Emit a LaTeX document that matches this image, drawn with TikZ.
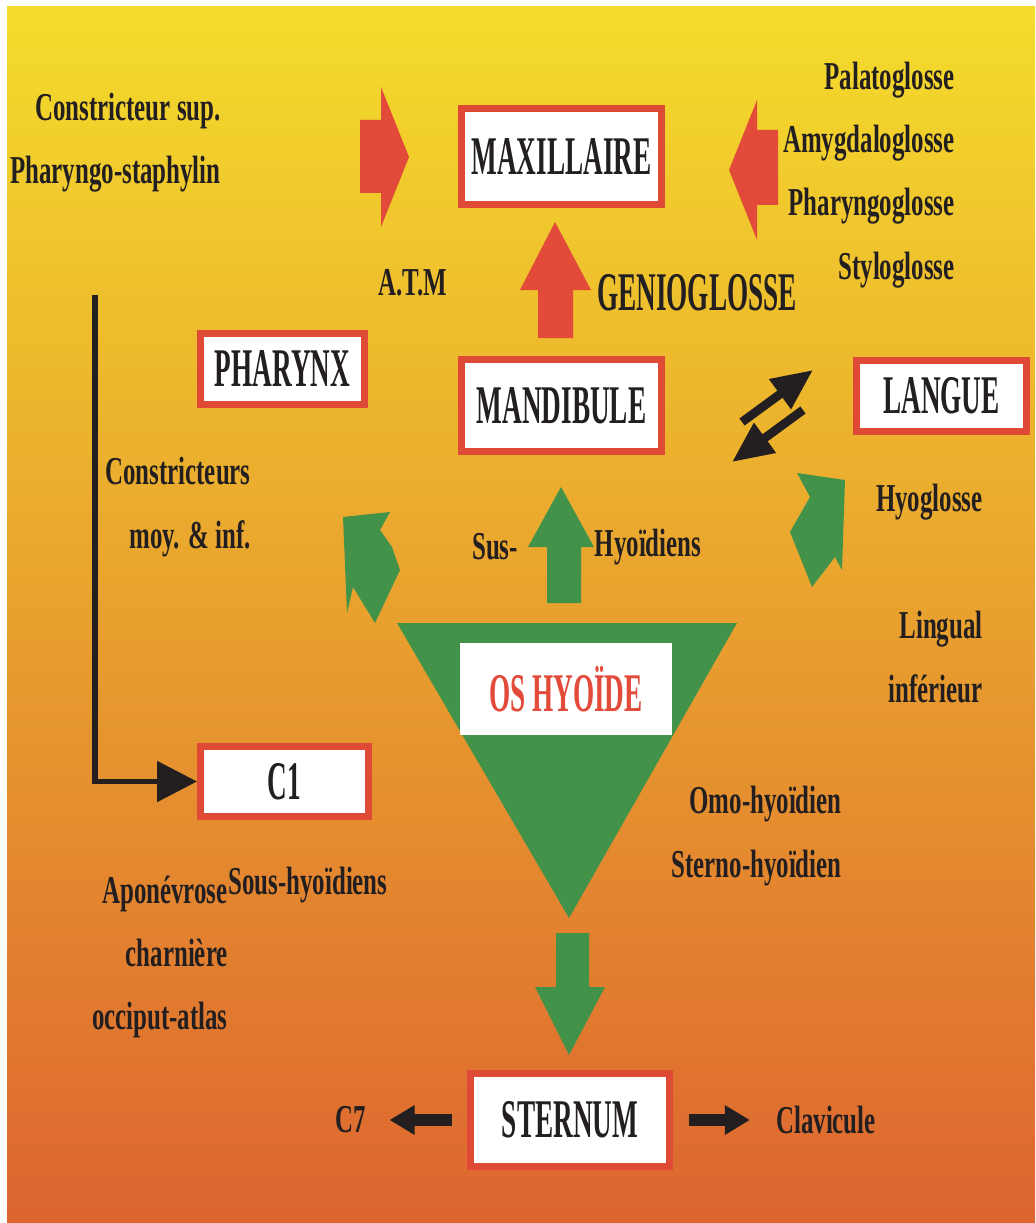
\documentclass[tikz,border=0pt]{standalone}
\usepackage{fontspec}
\usetikzlibrary{arrows.meta}

\newfontfamily\condbox[FakeStretch=0.5]{Liberation Serif}
\newfontfamily\condlab[FakeStretch=0.63]{Liberation Serif}
\newcommand{\boxtxt}{\condbox\bfseries\fontsize{31}{33}\selectfont}
\newcommand{\labtxt}{\condlab\bfseries\fontsize{22.5}{36}\selectfont}

\definecolor{topyellow}{HTML}{F4DC2C}
\definecolor{midorange}{HTML}{EAA644}
\definecolor{lowred}{HTML}{DD6530}
\definecolor{boxred}{HTML}{DE4A35}
\definecolor{arrowred}{HTML}{E24B3A}
\definecolor{leafgreen}{HTML}{43924A}
\definecolor{ink}{HTML}{231F20}

\begin{document}
\begin{tikzpicture}
	[x=0.02cm, y=-0.02cm,
	 organ/.style = {draw=boxred,
	                 line width=4pt,
	                 fill=white,
	                 font=\boxtxt,
	                 text=ink,
	                 inner sep=0pt},
	 lbl/.style   = {font=\labtxt, text=ink, inner sep=0pt, align=right},
	 bigarrow/.style  = {draw=ink, line width=5pt,
	                     -{Triangle[length=0.82cm, width=0.7cm]}},
	 sidearrow/.style = {draw=ink, line width=6.5pt,
	                     -{Triangle[length=0.5cm, width=0.56cm]}}
	]

	\useasboundingbox (0,0) rectangle (1035,1223);
	\shade[top color=topyellow, middle color=midorange, bottom color=lowred]
	      (7,7) rectangle (1035,1223);

	% bones and organs
	\node[organ, minimum width=4cm,    minimum height=1.92cm] (maxi)  at (561.5,156.5) {MAXILLAIRE};
	\node[organ, minimum width=3.28cm, minimum height=1.42cm] (phar)  at (282.5,369)   {PHARYNX};
	\node[organ, minimum width=4cm,    minimum height=1.84cm] (mandi) at (561.5,405.5) {MANDIBULE};
	\node[organ, minimum width=3.4cm,  minimum height=1.42cm] (lang)  at (941.5,396)   {LANGUE};
	\node[organ, minimum width=3.36cm, minimum height=1.4cm]  (cone)  at (284.5,781.5) {C1};
	\node[organ, minimum width=3.98cm, minimum height=1.86cm] (stern) at (570,1120)    {STERNUM};

	\fill[leafgreen] (397,623) -- (737,623) -- (569,918) -- cycle;
	\node[fill=white, inner sep=0pt, minimum width=4.24cm, minimum height=1.84cm,
	      font=\boxtxt, text=arrowred] (hyo) at (566,689) {OS HYOÏDE};

	% red arrows
	\fill[arrowred] (360,120) -- (381,120) -- (381,87) -- (409,157) -- (381,227) -- (381,193) -- (360,193) -- cycle;
	\fill[arrowred] (778,130) -- (757,130) -- (757,100) -- (729,170) -- (757,240) -- (757,205) -- (778,205) -- cycle;
	\fill[arrowred] (538,338) -- (538,290) -- (520,290) -- (555,222) -- (591,290) -- (573,290) -- (573,338) -- cycle;

	% green arrows
	\fill[leafgreen] (547,603) -- (547,547) -- (528,547) -- (561,487) -- (594,547) -- (581,547) -- (581,603) -- cycle;
	\fill[leafgreen] (556,933) -- (589,933) -- (589,987) -- (605,987) -- (569,1055) -- (535,987) -- (556,987) -- cycle;
	\fill[leafgreen] (343,517) -- (390,512) -- (380,530) -- (392,547) -- (400,570) -- (375,623) -- (353,587) -- (347,613) -- cycle;
	\fill[leafgreen] (797,473) -- (845,480) -- (842,570) -- (835,557) -- (812,587) -- (790,532) -- (810,497) -- cycle;

	% labels
	\node[lbl, anchor=east] (csup) at (221,143) {Constricteur sup.\\Pharyngo-staphylin};
	\node[lbl, anchor=east] (glos) at (955,175) {Palatoglosse\\Amygdaloglosse\\Pharyngoglosse\\Styloglosse};
	\node[lbl] (atm) at (413,283) {A.T.M};
	\node[font=\boxtxt, text=ink, inner sep=0pt] (genio) at (697,293) {GENIOGLOSSE};
	\node[lbl, anchor=east] (cmoy) at (251,507) {Constricteurs\\moy. \& inf.};
	\node[lbl] (sus)  at (495,547) {Sus-};
	\node[lbl] (hyoi) at (648,547) {Hyoïdiens};
	\node[lbl, anchor=east] (hyog) at (983,502) {Hyoglosse};
	\node[lbl, anchor=east] (ling) at (983,657) {Lingual\\inférieur};
	\node[lbl, anchor=east] (omo)  at (842,836) {Omo-hyoïdien\\Sterno-hyoïdien};
	\node[lbl, anchor=east] (apo)  at (228,957) {Aponévrose\\charnière\\occiput-atlas};
	\node[lbl, anchor=west] (soush) at (228,885) {Sous-hyoïdiens};
	\node[lbl] (cseven) at (351,1120) {C7};
	\node[lbl] (clav)   at (826,1120) {Clavicule};

	% black connectors
	\coordinate (upA) at (742,422);
	\coordinate (upB) at (813,370);
	\coordinate (dnA) at (803,410);
	\coordinate (dnB) at (732,462);
	\coordinate (vtop) at (95,295);
	\draw[bigarrow] (upA) -- (upB);
	\draw[bigarrow] (dnA) -- (dnB);
	\draw[ink, line width=3pt, -{Triangle[length=0.8cm, width=0.8cm]}] (vtop) |- (cone.west);
	\draw[sidearrow, shorten <=0.31cm, shorten >=0.46cm] (stern.west) -- (cseven.east);
	\draw[sidearrow, shorten <=0.31cm, shorten >=0.52cm] (stern.east) -- (clav.west);
\end{tikzpicture}
\end{document}
